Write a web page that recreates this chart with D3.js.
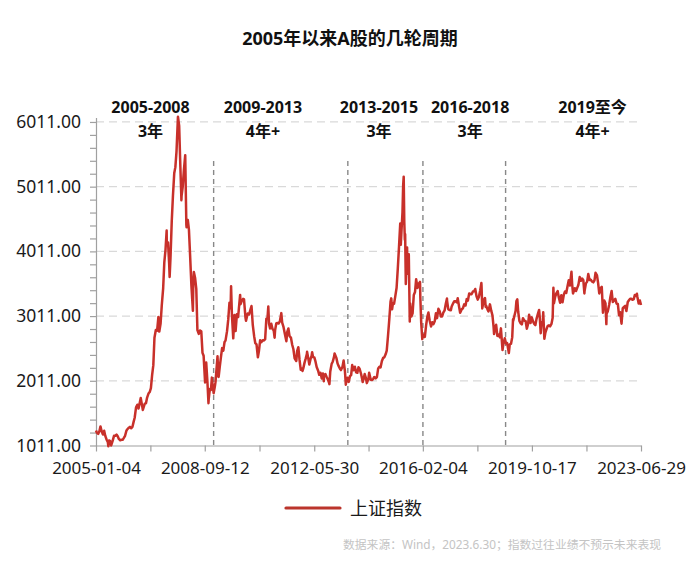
<!DOCTYPE html>
<html><head><meta charset="utf-8">
<script src="https://cdn.jsdelivr.net/npm/d3@7"></script>
<style>
body{margin:0;background:#fff;}
svg{display:block;font-family:"Noto Sans","Noto Sans CJK SC",sans-serif;}
</style></head>
<body><svg id="chart" width="700" height="567"></svg>
<script>
const chartTitle = "2005年以来A股的几轮周期";
const seriesName = "上证指数";
const sourceNote = "数据来源：Wind，2023.6.30；指数过往业绩不预示未来表现";
const xTickLabels = ["2005-01-04","2008-09-12","2012-05-30","2016-02-04","2019-10-17","2023-06-29"];
const yTickValues = [1011,2011,3011,4011,5011,6011];
const cycleDividers = ["2008-12-31","2013-07-20","2016-02-05","2018-11-25"];
const cycleNames = ["2005-2008","2009-2013","2013-2015","2016-2018","2019至今"];
const cycleLengths = ["3年","4年+","3年","3年","4年+"];
const cycleLabelDates = ["2006-11-10","2010-09-03","2014-08-10","2017-09-12","2021-11-06"];

const shIndex = [
["2005-01-04",1243],["2005-01-14",1210],["2005-01-31",1191],["2005-02-15",1230],["2005-02-28",1306],["2005-03-15",1230],["2005-03-31",1181],["2005-04-15",1238],["2005-04-29",1159],["2005-05-16",1100],["2005-05-31",1060],["2005-06-06",998],["2005-06-15",1090],["2005-06-30",1080],["2005-07-11",1011],["2005-07-29",1083],["2005-08-15",1160],["2005-08-31",1162],["2005-09-15",1180],["2005-09-30",1155],["2005-10-14",1112],["2005-10-31",1092],["2005-11-15",1099],["2005-11-30",1099],["2005-12-15",1129],["2005-12-30",1161],
["2006-01-16",1240],["2006-01-25",1258],["2006-02-15",1286],["2006-02-28",1299],["2006-03-15",1277],["2006-03-31",1298],["2006-04-14",1372],["2006-04-28",1440],["2006-05-15",1601],["2006-05-31",1641],["2006-06-15",1582],["2006-06-30",1672],["2006-07-12",1745],["2006-07-31",1612],["2006-08-07",1560],["2006-08-31",1658],["2006-09-15",1663],["2006-09-29",1752],["2006-10-16",1814],["2006-10-31",1837],["2006-11-15",1899],["2006-11-30",2099],["2006-12-15",2253],["2006-12-29",2675],
["2007-01-15",2795],["2007-01-31",2786],["2007-02-16",2997],["2007-02-27",2771],["2007-03-15",2896],["2007-03-30",3183],["2007-04-16",3444],["2007-04-30",3841],["2007-05-15",4036],["2007-05-29",4334],["2007-05-31",4109],["2007-06-15",4151],["2007-06-29",3820],["2007-07-05",3615],["2007-07-16",3920],["2007-07-31",4471],["2007-08-15",4870],["2007-08-31",5218],["2007-09-14",5313],["2007-09-28",5552],["2007-10-16",6092],["2007-10-31",5955],["2007-11-15",5316],["2007-11-28",4803],["2007-11-30",4871],["2007-12-14",5007],["2007-12-28",5261],
["2008-01-14",5497],["2008-01-28",4419],["2008-01-31",4383],["2008-02-15",4497],["2008-02-29",4348],["2008-03-14",3962],["2008-03-31",3472],["2008-04-18",3094],["2008-04-24",3583],["2008-04-30",3693],["2008-05-15",3604],["2008-05-30",3433],["2008-06-13",2794],["2008-06-30",2736],["2008-07-15",2788],["2008-07-31",2775],["2008-08-15",2443],["2008-08-29",2397],["2008-09-16",1986],["2008-09-24",2237],["2008-09-30",2293],["2008-10-15",1996],["2008-10-28",1664],["2008-10-31",1729],["2008-11-14",1883],["2008-11-28",1871],["2008-12-09",2060],["2008-12-23",1897],["2008-12-31",1820],
["2009-01-15",1921],["2009-01-23",1990],["2009-02-17",2389],["2009-02-27",2082],["2009-03-03",2071],["2009-03-16",2219],["2009-03-31",2373],["2009-04-15",2516],["2009-04-30",2477],["2009-05-15",2611],["2009-05-27",2632],["2009-06-15",2778],["2009-06-30",2959],["2009-07-15",3218],["2009-07-29",3133],["2009-08-04",3471],["2009-08-14",3046],["2009-08-31",2667],["2009-09-15",3026],["2009-09-29",2779],["2009-10-15",3041],["2009-10-30",2996],["2009-11-13",3187],["2009-11-24",3338],["2009-11-30",3195],["2009-12-15",3248],["2009-12-31",3277],
["2010-01-11",3273],["2010-01-29",2989],["2010-02-05",2940],["2010-02-26",3051],["2010-03-15",3035],["2010-03-31",3109],["2010-04-14",3166],["2010-04-30",2870],["2010-05-17",2697],["2010-05-31",2592],["2010-06-15",2573],["2010-06-30",2398],["2010-07-02",2373],["2010-07-15",2470],["2010-07-30",2638],["2010-08-13",2608],["2010-08-31",2638],["2010-09-15",2633],["2010-09-30",2655],["2010-10-15",2971],["2010-10-29",2979],["2010-11-08",3159],["2010-11-17",2894],["2010-11-30",2820],["2010-12-15",2893],["2010-12-31",2808],
["2011-01-14",2791],["2011-01-25",2677],["2011-01-31",2790],["2011-02-15",2899],["2011-02-28",2905],["2011-03-15",2896],["2011-03-31",2928],["2011-04-18",3057],["2011-04-29",2911],["2011-05-16",2839],["2011-05-31",2743],["2011-06-20",2622],["2011-06-30",2762],["2011-07-15",2820],["2011-07-29",2701],["2011-08-15",2679],["2011-08-31",2568],["2011-09-15",2499],["2011-09-30",2359],["2011-10-21",2317],["2011-10-31",2468],["2011-11-15",2530],["2011-11-30",2333],["2011-12-15",2181],["2011-12-30",2199],
["2012-01-06",2163],["2012-01-16",2207],["2012-01-31",2292],["2012-02-15",2357],["2012-02-29",2428],["2012-03-02",2460],["2012-03-15",2373],["2012-03-30",2262],["2012-04-16",2357],["2012-04-27",2396],["2012-05-04",2452],["2012-05-15",2378],["2012-05-31",2373],["2012-06-15",2306],["2012-06-29",2225],["2012-07-16",2171],["2012-07-31",2103],["2012-08-15",2134],["2012-08-31",2047],["2012-09-14",2124],["2012-09-26",2004],["2012-09-28",2086],["2012-10-15",2115],["2012-10-31",2069],["2012-11-15",2030],["2012-11-30",1980],["2012-12-04",1959],["2012-12-14",2150],["2012-12-31",2269],
["2013-01-15",2310],["2013-01-31",2385],["2013-02-06",2434],["2013-02-28",2365],["2013-03-15",2278],["2013-03-29",2237],["2013-04-15",2194],["2013-04-26",2177],["2013-05-15",2228],["2013-05-29",2324],["2013-05-31",2301],["2013-06-14",2162],["2013-06-25",1951],["2013-06-28",1979],["2013-07-15",2059],["2013-07-31",1994],["2013-08-15",2082],["2013-08-30",2098],["2013-09-12",2255],["2013-09-30",2175],["2013-10-15",2228],["2013-10-31",2141],["2013-11-15",2135],["2013-11-29",2220],["2013-12-13",2197],["2013-12-31",2116],
["2014-01-15",2028],["2014-01-20",1992],["2014-01-30",2033],["2014-02-14",2115],["2014-02-28",2056],["2014-03-12",1975],["2014-03-31",2033],["2014-04-10",2134],["2014-04-30",2026],["2014-05-15",2024],["2014-05-30",2039],["2014-06-13",2070],["2014-06-30",2048],["2014-07-15",2067],["2014-07-31",2202],["2014-08-15",2227],["2014-08-29",2217],["2014-09-15",2316],["2014-09-30",2364],["2014-10-15",2374],["2014-10-31",2420],["2014-11-14",2478],["2014-11-28",2683],["2014-12-09",2857],["2014-12-15",2953],["2014-12-31",3235],
["2015-01-09",3285],["2015-01-19",3116],["2015-01-30",3210],["2015-02-13",3203],["2015-02-27",3311],["2015-03-16",3449],["2015-03-31",3748],["2015-04-15",4084],["2015-04-30",4442],["2015-05-07",4112],["2015-05-15",4308],["2015-05-28",4620],["2015-06-05",5023],["2015-06-12",5166],["2015-06-19",4478],["2015-06-26",4193],["2015-06-30",4277],["2015-07-08",3507],["2015-07-15",3805],["2015-07-24",4070],["2015-07-27",3726],["2015-07-31",3664],["2015-08-14",3965],["2015-08-26",2927],["2015-08-31",3206],["2015-09-15",3005],["2015-09-30",3053],["2015-10-15",3338],["2015-10-30",3383],["2015-11-13",3580],["2015-11-30",3445],["2015-12-15",3510],["2015-12-31",3539],
["2016-01-04",3297],["2016-01-15",2901],["2016-01-28",2656],["2016-01-29",2738],["2016-02-15",2687],["2016-02-29",2688],["2016-03-15",2864],["2016-03-31",3004],["2016-04-13",3066],["2016-04-29",2938],["2016-05-16",2850],["2016-05-31",2917],["2016-06-15",2887],["2016-06-30",2930],["2016-07-15",3054],["2016-07-29",2979],["2016-08-15",3125],["2016-08-31",3085],["2016-09-14",3003],["2016-09-30",3005],["2016-10-14",3064],["2016-10-31",3100],["2016-11-15",3206],["2016-11-29",3282],["2016-11-30",3250],["2016-12-15",3118],["2016-12-30",3104],
["2017-01-16",3103],["2017-01-26",3159],["2017-02-15",3212],["2017-02-28",3242],["2017-03-15",3241],["2017-03-31",3223],["2017-04-11",3288],["2017-04-28",3155],["2017-05-11",3061],["2017-05-31",3117],["2017-06-15",3133],["2017-06-30",3192],["2017-07-17",3176],["2017-07-31",3273],["2017-08-15",3251],["2017-08-31",3361],["2017-09-15",3353],["2017-09-29",3349],["2017-10-16",3390],["2017-10-31",3393],["2017-11-14",3430],["2017-11-30",3317],["2017-12-15",3266],["2017-12-29",3307],
["2018-01-15",3410],["2018-01-29",3523],["2018-01-31",3481],["2018-02-09",3130],["2018-02-28",3259],["2018-03-15",3291],["2018-03-23",3153],["2018-03-30",3169],["2018-04-16",3110],["2018-04-27",3082],["2018-05-15",3192],["2018-05-31",3095],["2018-06-15",3022],["2018-06-29",2847],["2018-07-05",2734],["2018-07-16",2814],["2018-07-31",2876],["2018-08-15",2705],["2018-08-31",2725],["2018-09-14",2682],["2018-09-28",2821],["2018-10-18",2486],["2018-10-31",2603],["2018-11-15",2668],["2018-11-30",2588],["2018-12-14",2594],["2018-12-28",2494],
["2019-01-04",2440],["2019-01-15",2570],["2019-01-31",2585],["2019-02-15",2682],["2019-02-25",2961],["2019-02-28",2941],["2019-03-15",3021],["2019-03-29",3091],["2019-04-08",3244],["2019-04-19",3270],["2019-04-30",3078],["2019-05-15",2938],["2019-05-31",2899],["2019-06-14",2882],["2019-06-28",2979],["2019-07-15",2942],["2019-07-31",2933],["2019-08-15",2815],["2019-08-30",2886],["2019-09-12",3031],["2019-09-30",2905],["2019-10-15",2991],["2019-10-31",2929],["2019-11-15",2891],["2019-11-29",2872],["2019-12-13",2968],["2019-12-31",3050],
["2020-01-14",3106],["2020-01-23",2976],["2020-02-03",2746],["2020-02-14",2917],["2020-02-28",2880],["2020-03-05",3071],["2020-03-19",2660],["2020-03-31",2750],["2020-04-15",2811],["2020-04-30",2860],["2020-05-15",2868],["2020-05-29",2852],["2020-06-15",2890],["2020-06-30",2985],["2020-07-09",3450],["2020-07-16",3210],["2020-07-31",3310],["2020-08-14",3360],["2020-08-31",3396],["2020-09-15",3295],["2020-09-30",3218],["2020-10-15",3332],["2020-10-30",3225],["2020-11-16",3347],["2020-11-30",3392],["2020-12-15",3367],["2020-12-31",3473],
["2021-01-15",3566],["2021-01-29",3483],["2021-02-18",3696],["2021-02-26",3509],["2021-03-09",3360],["2021-03-31",3442],["2021-04-15",3398],["2021-04-30",3447],["2021-05-14",3490],["2021-05-31",3615],["2021-06-15",3556],["2021-06-30",3591],["2021-07-15",3564],["2021-07-28",3361],["2021-07-30",3397],["2021-08-16",3517],["2021-08-31",3544],["2021-09-14",3662],["2021-09-30",3568],["2021-10-15",3572],["2021-10-29",3547],["2021-11-15",3533],["2021-11-30",3564],["2021-12-13",3681],["2021-12-31",3640],
["2022-01-14",3521],["2022-01-28",3361],["2022-02-15",3446],["2022-02-28",3462],["2022-03-15",3064],["2022-03-31",3252],["2022-04-15",3211],["2022-04-26",2887],["2022-04-29",3047],["2022-05-13",3084],["2022-05-31",3186],["2022-06-15",3305],["2022-06-30",3399],["2022-07-15",3228],["2022-07-29",3253],["2022-08-15",3277],["2022-08-31",3202],["2022-09-15",3199],["2022-09-30",3024],["2022-10-14",3071],["2022-10-31",2893],["2022-11-15",3134],["2022-11-30",3151],["2022-12-15",3168],["2022-12-30",3089],
["2023-01-16",3228],["2023-01-31",3255],["2023-02-15",3280],["2023-02-28",3280],["2023-03-15",3263],["2023-03-31",3273],["2023-04-14",3338],["2023-04-28",3323],["2023-05-09",3357],["2023-05-15",3311],["2023-05-31",3205],["2023-06-15",3252],["2023-06-29",3182]
];

const parse = d3.timeParse("%Y-%m-%d");
const data = shIndex.map(d => ({date: parse(d[0]), value: d[1]}));

const svg = d3.select("#chart");
const left = 96, right = 641, bottom = 445.5;
const x = d3.scaleTime().domain([parse(xTickLabels[0]), parse(xTickLabels[xTickLabels.length-1])]).range([left, right]);
const y = d3.scaleLinear().domain([1011, 6080]).range([bottom, 117.5]);
const txt = "#1a1a1a";

// title
svg.append("text").attr("x", 350).attr("y", 45).attr("text-anchor", "middle")
  .attr("font-size", 18).attr("font-weight", "bold").attr("fill", "#111").text(chartTitle);

// gridlines
svg.append("g").selectAll("line").data(yTickValues.slice(1)).join("line")
  .attr("x1", left).attr("x2", right).attr("y1", d => y(d)).attr("y2", d => y(d))
  .attr("stroke", "#d9d9d9").attr("stroke-width", 1.3).attr("stroke-dasharray", "8,5");

// y axis
const yMinor = d3.range(1011, 6012, 200);
const yAxis = svg.append("g").attr("transform", `translate(${left},0)`)
  .call(d3.axisLeft(y).tickValues(yMinor).tickSize(6).tickSizeOuter(0).tickPadding(9)
    .tickFormat(v => yTickValues.includes(v) ? v.toFixed(2) : ""));
yAxis.select(".domain").attr("stroke", "#a0a0a0").attr("stroke-width", 1.2);
yAxis.selectAll(".tick line").attr("stroke", "#a0a0a0").attr("stroke-width", 1.2);
yAxis.selectAll(".tick text").attr("font-size", 17.5).attr("fill", txt).attr("font-family", "Noto Sans");

// x axis
const labeled = xTickLabels.map(parse);
const xTicks = [];
labeled.forEach((d, i) => {
  xTicks.push(d);
  if (i < labeled.length - 1) xTicks.push(new Date((d.getTime() + labeled[i+1].getTime()) / 2));
});
const fmt = d3.timeFormat("%Y-%m-%d");
const xAxis = svg.append("g").attr("transform", `translate(0,${bottom})`)
  .call(d3.axisBottom(x).tickValues(xTicks).tickSize(6).tickSizeOuter(0).tickPadding(10)
    .tickFormat(d => xTickLabels.includes(fmt(d)) ? fmt(d) : ""));
xAxis.select(".domain").attr("stroke", "#a0a0a0").attr("stroke-width", 1.2);
xAxis.selectAll(".tick line").attr("stroke", "#a0a0a0").attr("stroke-width", 1.2);
xAxis.selectAll(".tick text").attr("font-size", 17).attr("fill", txt).attr("font-family", "Noto Sans");

// cycle dividers
svg.append("g").selectAll("line").data(cycleDividers).join("line")
  .attr("x1", d => x(parse(d))).attr("x2", d => x(parse(d)))
  .attr("y1", 161).attr("y2", bottom)
  .attr("stroke", "#888").attr("stroke-width", 1.4).attr("stroke-dasharray", "5,4");

// line
svg.append("path").datum(data)
  .attr("fill", "none").attr("stroke", "#c8302a").attr("stroke-width", 2.5).attr("stroke-linejoin", "round")
  .attr("d", d3.line().x(d => x(d.date)).y(d => y(d.value)));

// cycle labels
const lab = svg.append("g").attr("font-weight", "bold").attr("fill", "#111").attr("text-anchor", "middle");
cycleLabelDates.forEach((d, i) => {
  const cx = x(parse(d));
  lab.append("text").attr("x", cx).attr("y", 112.5).attr("font-size", 16).text(cycleNames[i]);
  lab.append("text").attr("x", cx).attr("y", 137).attr("font-size", 16).text(cycleLengths[i]);
});

// legend
svg.append("line").attr("x1", 286).attr("x2", 340).attr("y1", 508).attr("y2", 508)
  .attr("stroke", "#bb352c").attr("stroke-width", 3.2).attr("stroke-linecap", "round");
svg.append("text").attr("x", 350).attr("y", 515).attr("font-size", 18).attr("fill", txt).text(seriesName);

// source
svg.append("text").attr("x", 343).attr("y", 549).attr("font-size", 11.8).attr("fill", "#c4c4c4").text(sourceNote);
</script></body></html>
